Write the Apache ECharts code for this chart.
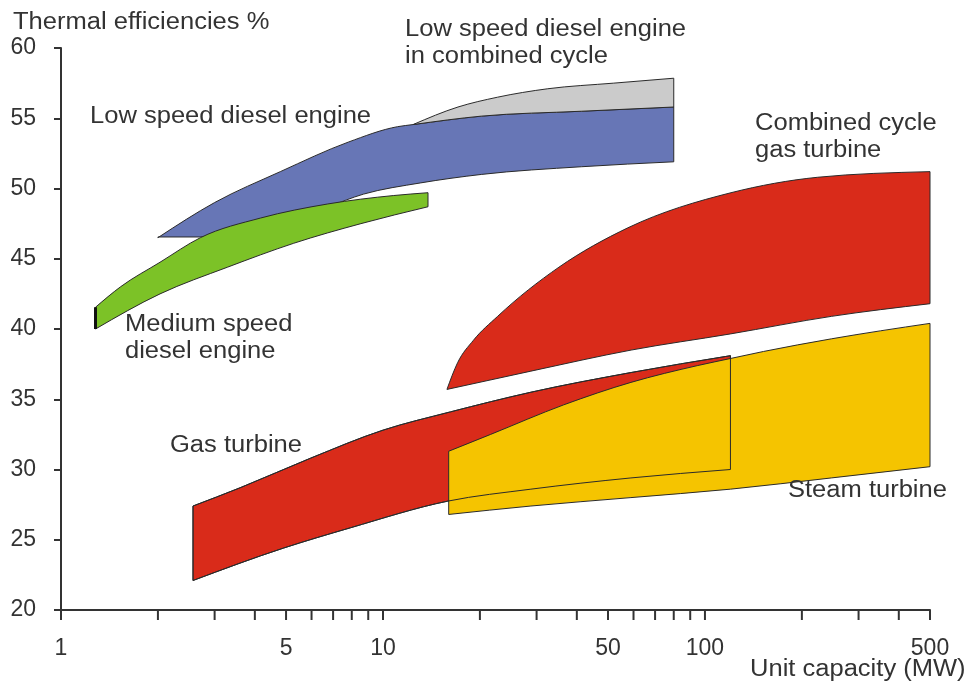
<!DOCTYPE html>
<html>
<head>
<meta charset="utf-8">
<script src="https://cdn.jsdelivr.net/npm/echarts@6/dist/echarts.min.js"></script>
<style>
  html, body { margin: 0; padding: 0; background: #ffffff; }
  #chart { width: 970px; height: 684px; }
</style>
</head>
<body>
<div id="chart"></div>
<script>
// Efficiency bands: upper and lower edge of each band, as [unit capacity MW, efficiency %]
const lowSpeedTop = [[2.0, 46.5], [3.0, 49.0], [4.8, 51.2], [7.8, 53.3], [11.1, 54.4], [12.4, 54.55], [20.2, 55.15], [41.4, 55.5], [80, 55.8]];
const lowSpeedBottom = [[2.0, 46.55], [2.7, 46.55], [4.2, 47.7], [6.7, 48.7], [8.7, 49.6], [13.1, 50.4], [20.2, 51.0], [41.4, 51.55], [80, 51.9]];

const combinedDieselTop = [[12.4, 54.55], [17.1, 55.8], [22.7, 56.5], [32.5, 57.1], [52.1, 57.5], [80, 57.85]];
const combinedDieselBottom = [[12.4, 54.55], [20.2, 55.15], [41.4, 55.5], [80, 55.8]];

const mediumSpeedTop = [[1.28, 41.55], [1.53, 43.0], [2.03, 44.75], [2.71, 46.5], [4.17, 47.9], [6.74, 48.9], [10.8, 49.5], [13.8, 49.7]];
const mediumSpeedBottom = [[1.28, 40.0], [2.03, 42.5], [3.29, 44.4], [5.28, 46.1], [8.54, 47.5], [13.8, 48.7]];

const ccgtTop = [[15.8, 35.7], [17.05, 37.6], [19.1, 39.2], [22.7, 40.9], [35.2, 44.4], [57.6, 47.2], [120.5, 49.7], [224, 50.8], [500, 51.2]];
const ccgtBottom = [[15.8, 35.7], [28.8, 37.0], [59, 38.5], [120, 39.65], [247, 40.9], [500, 41.8]];

const gasTurbineTop = [[2.57, 27.4], [3.6, 28.7], [5.95, 30.8], [10, 32.8], [16.2, 34.1], [28.8, 35.5], [58.9, 36.9], [120, 38.1]];
const gasTurbineBottom = [[2.57, 22.1], [4.9, 24.4], [7.92, 25.85], [15.9, 27.75], [28.8, 28.6], [58.9, 29.4], [120, 30.0]];

const steamTop = [[16, 31.3], [21.6, 32.5], [36.4, 34.6], [58.9, 36.2], [95, 37.4], [120, 37.9], [152, 38.4], [247, 39.3], [500, 40.4]];
const steamBottom = [[16, 26.8], [28.8, 27.4], [58.9, 28.0], [120, 28.6], [247, 29.4], [500, 30.2]];

// Axis ticks and labels
const xTickValues = [1, 2, 3, 4, 5, 6, 7, 8, 9, 10, 20, 30, 40, 50, 60, 70, 80, 90, 100, 200, 300, 400, 500];
const xTickLabels = [1, 5, 10, 50, 100, 500];
const yMin = 20, yMax = 60, yStep = 5;

// Text
const yTitle = 'Thermal efficiencies %';
const xTitle = 'Unit capacity (MW)';
const bandNames = {
  lowSpeed: 'Low speed diesel engine',
  combinedDiesel: 'Low speed diesel engine\nin combined cycle',
  mediumSpeed: 'Medium speed\ndiesel engine',
  ccgt: 'Combined cycle\ngas turbine',
  gasTurbine: 'Gas turbine',
  steam: 'Steam turbine'
};

const FONT = '"Liberation Sans", Arial, Helvetica, sans-serif';
const INK = '#333333';
const EDGE = '#2a2a2a';

// Monotone cubic curve through pixel points (y as a function of x), as Bezier segments
function sign(v) { return v < 0 ? -1 : 1; }
function monotoneTangents(pts) {
  const n = pts.length, m = new Array(n).fill(0);
  if (n < 3) {
    const s = (pts[1][1] - pts[0][1]) / (pts[1][0] - pts[0][0]);
    return [s, s];
  }
  for (let i = 1; i < n - 1; i++) {
    const h0 = pts[i][0] - pts[i - 1][0], h1 = pts[i + 1][0] - pts[i][0];
    const s0 = (pts[i][1] - pts[i - 1][1]) / h0, s1 = (pts[i + 1][1] - pts[i][1]) / h1;
    const p = (s0 * h1 + s1 * h0) / (h0 + h1);
    m[i] = (sign(s0) + sign(s1)) * Math.min(Math.abs(s0), Math.abs(s1), 0.5 * Math.abs(p)) || 0;
  }
  const hA = pts[1][0] - pts[0][0];
  m[0] = (3 * (pts[1][1] - pts[0][1]) / hA - m[1]) / 2;
  const hB = pts[n - 1][0] - pts[n - 2][0];
  m[n - 1] = (3 * (pts[n - 1][1] - pts[n - 2][1]) / hB - m[n - 2]) / 2;
  return m;
}
function curveTo(pts) {
  const m = monotoneTangents(pts);
  let d = '';
  for (let i = 0; i < pts.length - 1; i++) {
    const x0 = pts[i][0], y0 = pts[i][1], x1 = pts[i + 1][0], y1 = pts[i + 1][1];
    const dx = (x1 - x0) / 3;
    d += ' C' + (x0 + dx).toFixed(2) + ' ' + (y0 + m[i] * dx).toFixed(2) + ' ' +
      (x1 - dx).toFixed(2) + ' ' + (y1 - m[i + 1] * dx).toFixed(2) + ' ' +
      x1.toFixed(2) + ' ' + y1.toFixed(2);
  }
  return d;
}

function bandPath(top, bottom, api) {
  const t = top.map(p => api.coord(p));
  const b = bottom.slice().reverse().map(p => api.coord(p));
  return 'M' + t[0][0].toFixed(2) + ' ' + t[0][1].toFixed(2) + curveTo(t) +
    ' L' + b[0][0].toFixed(2) + ' ' + b[0][1].toFixed(2) + curveTo(b) + ' Z';
}

function bandSeries(name, top, bottom, fill, z, extra) {
  return {
    type: 'custom',
    name: name,
    coordinateSystem: 'cartesian2d',
    silent: true,
    z: z,
    data: [[10, 40]],
    renderItem: function (params, api) {
      const children = [{
        type: 'path',
        shape: { pathData: bandPath(top, bottom, api) },
        style: { fill: fill, stroke: EDGE, lineWidth: 1 }
      }];
      if (extra) extra(api, children);
      return { type: 'group', children: children };
    }
  };
}

function label(text, x, y, lineHeight) {
  return {
    type: 'text', x: x, y: y, scaleX: 1.11, z: 100, silent: true,
    style: {
      text: text, font: '23px ' + FONT, fill: INK,
      align: 'left', verticalAlign: 'middle', lineHeight: lineHeight || 27
    }
  };
}

const chart = echarts.init(document.getElementById('chart'), null, { renderer: 'canvas' });

chart.setOption({
  animation: false,
  backgroundColor: '#ffffff',
  grid: { left: 61, right: 40, top: 48, bottom: 74, containLabel: false },
  xAxis: {
    type: 'log', logBase: 10, min: 1, max: 500,
    axisLine: { show: true, lineStyle: { color: INK, width: 2 } },
    axisTick: { show: false },
    axisLabel: { show: false },
    splitLine: { show: false }
  },
  yAxis: {
    type: 'value', min: yMin, max: yMax, interval: yStep,
    axisLine: { show: true, lineStyle: { color: INK, width: 2 } },
    axisTick: { show: true, length: 7, lineStyle: { color: INK, width: 2 } },
    axisLabel: { color: INK, fontSize: 23, fontFamily: FONT, margin: 25 },
    splitLine: { show: false }
  },
  series: [
    bandSeries(bandNames.lowSpeed, lowSpeedTop, lowSpeedBottom, '#6776b6', 10),
    bandSeries(bandNames.combinedDiesel, combinedDieselTop, combinedDieselBottom, '#cbcbcb', 11),
    bandSeries(bandNames.mediumSpeed, mediumSpeedTop, mediumSpeedBottom, '#7cc227', 12, function (api, children) {
      const a = api.coord(mediumSpeedTop[0]);
      const b = api.coord(mediumSpeedBottom[0]);
      children.push({ type: 'line', shape: { x1: a[0], y1: a[1], x2: b[0], y2: b[1] }, style: { stroke: '#111', lineWidth: 3 } });
    }),
    bandSeries(bandNames.ccgt, ccgtTop, ccgtBottom, '#d92b1a', 13),
    bandSeries(bandNames.gasTurbine, gasTurbineTop, gasTurbineBottom, '#d92b1a', 14),
    bandSeries(bandNames.steam, steamTop, steamBottom, '#f5c400', 15),
    // gas turbine outline stays visible across the steam turbine band
    bandSeries('gas turbine outline', gasTurbineTop, gasTurbineBottom, 'none', 16),
    {
      type: 'custom', name: 'x ticks', coordinateSystem: 'cartesian2d', silent: true, z: 20,
      data: xTickValues.map(v => [v, yMin]),
      renderItem: function (params, api) {
        const p = api.coord([api.value(0), yMin]);
        return { type: 'line', shape: { x1: p[0], y1: p[1], x2: p[0], y2: p[1] + 10 }, style: { stroke: INK, lineWidth: 2 } };
      }
    },
    {
      type: 'custom', name: 'x labels', coordinateSystem: 'cartesian2d', silent: true, z: 20,
      data: xTickLabels.map(v => [v, yMin]),
      renderItem: function (params, api) {
        const p = api.coord([api.value(0), yMin]);
        return {
          type: 'text', x: p[0], y: p[1] + 39,
          style: { text: String(api.value(0)), font: '23px ' + FONT, fill: INK, align: 'center', verticalAlign: 'middle' }
        };
      }
    }
  ],
  graphic: [
    label(yTitle, 13, 23),
    label(xTitle, 750, 670),
    label(bandNames.combinedDiesel, 405, 43.5),
    label(bandNames.lowSpeed, 90, 117),
    label(bandNames.ccgt, 755, 137),
    label(bandNames.mediumSpeed, 125, 338),
    label(bandNames.gasTurbine, 170, 446),
    label(bandNames.steam, 788, 491)
  ]
});
</script>
</body>
</html>
